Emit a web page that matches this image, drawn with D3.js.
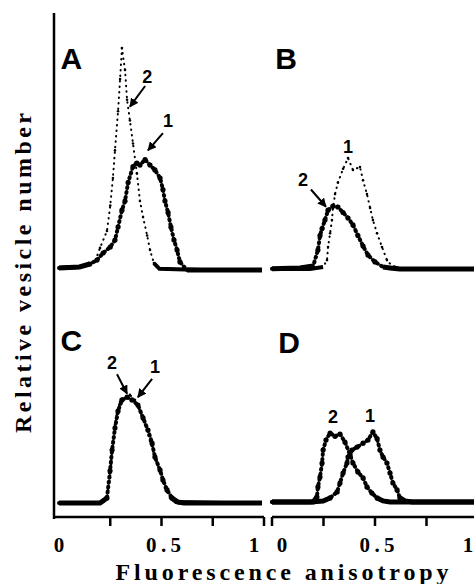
<!DOCTYPE html>
<head>
<meta charset="utf-8">
<style>
body { margin: 0; background: #fff; }
.axis-line { stroke: #000; stroke-width: 2.5; fill: none; }
.tick-lbl { font-family: "Liberation Serif", "Times New Roman", serif; font-weight: bold; font-size: 21px; }
.title { font-family: "Liberation Serif", "Times New Roman", serif; font-weight: bold; font-size: 24px; }
.panel-lbl { font: bold 30px "Liberation Sans", sans-serif; }
.num-lbl { font: bold 18px "Liberation Sans", sans-serif; }
</style>
<title>Fluorescence anisotropy histograms</title>
</head>
<body>
<svg width="474" height="584"></svg>
<script src="https://cdn.jsdelivr.net/npm/d3@7"></script>
<script>
/* global d3 */
// anisotropy (x) and relative vesicle number (y)
var xA1 = [0, 0.10, 0.15, 0.185, 0.215, 0.25, 0.273, 0.288, 0.307, 0.322, 0.337, 0.361, 0.38, 0.395, 0.42, 0.444, 0.468, 0.493, 0.507, 0.517, 0.532, 0.546, 0.561, 0.576, 0.59, 0.624, 0.8, 0.99]
var yA1 = [0.9, 1.3, 2.6, 4.3, 7.4, 10, 13, 18.7, 26, 30, 38, 45, 46.5, 45.6, 48, 45.6, 43.5, 40, 35, 30, 25, 18.7, 13, 8.7, 3.5, 0, 0, 0]
var xA2 = [0, 0.10, 0.175, 0.2, 0.234, 0.25, 0.263, 0.273, 0.288, 0.298, 0.307, 0.322, 0.332, 0.346, 0.361, 0.38, 0.395, 0.41, 0.43, 0.444, 0.463, 0.49, 0.7, 0.99]
var yA2 = [1, 1.3, 3.5, 9.6, 17, 28, 40, 52, 69, 83, 96.5, 87, 74, 65, 55, 42, 30, 23, 15, 8.7, 3, 0.5, 0, 0]

var xB1 = [0, 0.184, 0.248, 0.267, 0.272, 0.282, 0.291, 0.296, 0.306, 0.32, 0.345, 0.369, 0.393, 0.427, 0.442, 0.461, 0.476, 0.49, 0.51, 0.534, 0.558, 0.587, 0.62, 0.8, 1.0]
var yB1 = [0.4, 0.4, 1.3, 4.3, 10, 16, 21.7, 27, 33, 38, 44, 48.7, 43.5, 44.8, 39, 33, 27, 21.7, 16, 10, 4.3, 1.3, 0.4, 0.4, 0.4]
var xB2 = [0, 0.136, 0.2, 0.223, 0.233, 0.243, 0.257, 0.272, 0.296, 0.32, 0.345, 0.369, 0.393, 0.417, 0.442, 0.466, 0.5, 0.539, 0.573, 0.62, 0.8, 1.0]
var yB2 = [0.5, 0.9, 1.7, 8.7, 15, 18, 21.7, 26, 27.8, 27.4, 25, 22.6, 19.6, 15, 10.4, 6.5, 3.5, 1.3, 0.9, 0.4, 0.4, 0.4]

var xC1 = [0, 0.2, 0.234, 0.249, 0.259, 0.273, 0.288, 0.307, 0.332, 0.356, 0.385, 0.41, 0.434, 0.454, 0.468, 0.493, 0.507, 0.527, 0.551, 0.58, 0.61, 0.8, 0.99]
var yC1 = [0, 0, 2.2, 14, 23, 32.6, 40, 44.8, 46, 44.8, 42.6, 37, 31.7, 26, 20, 14.3, 10, 5.7, 2.2, 0.4, 0, 0, 0]
var xC2 = [0, 0.2, 0.224, 0.239, 0.249, 0.254, 0.263, 0.273, 0.283, 0.298, 0.322, 0.346, 0.371, 0.395, 0.42, 0.444, 0.468, 0.493, 0.517, 0.541, 0.571, 0.8, 0.99]
var yC2 = [0, 0, 1.3, 5.7, 11, 17, 27, 34, 40, 44, 45.6, 47, 44.8, 40, 34, 27, 19.6, 13.5, 6.5, 2.6, 0.4, 0, 0]

var xD1 = [0, 0.184, 0.248, 0.282, 0.316, 0.33, 0.345, 0.364, 0.369, 0.388, 0.413, 0.442, 0.466, 0.49, 0.51, 0.524, 0.539, 0.558, 0.573, 0.587, 0.607, 0.621, 0.646, 0.68, 0.85, 1.0]
var yD1 = [0.4, 0.4, 0.9, 2.2, 4.8, 8.7, 13, 17.4, 20, 23, 24.3, 26, 27.4, 30.9, 28, 23, 20, 17.4, 13, 8.7, 5.7, 2.2, 0.9, 0.4, 0.4, 0.4]
var xD2 = [0, 0.2, 0.218, 0.223, 0.233, 0.243, 0.248, 0.262, 0.282, 0.306, 0.33, 0.354, 0.379, 0.393, 0.417, 0.442, 0.461, 0.485, 0.51, 0.539, 0.573, 0.8, 1.0]
var yD2 = [0.4, 0.4, 2.6, 7, 11.3, 17.4, 23, 27.4, 30.4, 29, 30, 26.5, 21, 17.4, 13.5, 10.9, 7, 4.3, 2.2, 0.9, 0.4, 0.4, 0.4]

var tickVals = [0.25, 0.5, 0.75, 1]
var tickLabels = ["0", "0.5", "1"]
var tickLabelVals = [0, 0.5, 1]

var svg = d3.select("svg")
var xLeft = d3.scaleLinear().domain([0, 1]).range([59, 264]),
    xRight = d3.scaleLinear().domain([0, 1]).range([272, 478]),
    yTop = d3.scaleLinear().domain([0, 100]).range([270, 40]),
    yBottom = d3.scaleLinear().domain([0, 100]).range([503, 273])

function zip(xs, ys) { return xs.map((x, i) => ({x: x, y: ys[i]})) }

var panels = [
  {name: "A", x: xLeft, y: yTop, lbl: [0.06, 92],
   series: [{d: zip(xA1, yA1), heavy: true}, {d: zip(xA2, yA2), heavy: false}],
   nums: [{t: "2", at: [0.43, 84], arrow: [[0.42, 80], [0.346, 71]]},
          {t: "1", at: [0.532, 65], arrow: [[0.507, 59.5], [0.434, 52]]}]},
  {name: "B", x: xRight, y: yTop, lbl: [0.068, 92],
   series: [{d: zip(xB1, yB1), heavy: false}, {d: zip(xB2, yB2), heavy: true}],
   nums: [{t: "1", at: [0.369, 53.5]},
          {t: "2", at: [0.15, 39], arrow: [[0.189, 35], [0.262, 27.5]]}]},
  {name: "C", x: xLeft, y: yBottom, lbl: [0.06, 70.5],
   series: [{d: zip(xC2, yC2), heavy: false}, {d: zip(xC1, yC1), heavy: true}],
   nums: [{t: "2", at: [0.259, 61], arrow: [[0.283, 56], [0.332, 47.5]]},
          {t: "1", at: [0.468, 59], arrow: [[0.454, 54], [0.385, 46]]}]},
  {name: "D", x: xRight, y: yBottom, lbl: [0.083, 69.6],
   series: [{d: zip(xD2, yD2), heavy: true}, {d: zip(xD1, yD1), heavy: true}],
   nums: [{t: "2", at: [0.296, 37.5]}, {t: "1", at: [0.476, 38]}]}
]

svg.append("defs").append("marker")
    .attr("id", "head")
    .attr("viewBox", "0 0 10 10")
    .attr("refX", 9).attr("refY", 5)
    .attr("markerWidth", 4.5).attr("markerHeight", 4.5)
    .attr("orient", "auto")
  .append("path")
    .attr("d", "M0,0L10,5L0,10z")

panels.forEach(function(p) {
  var g = svg.append("g")
  var base = d3.line().defined(d => d.y <= 3).x(d => p.x(d.x)).y(d => p.y(d.y))
  var all = d3.line().x(d => p.x(d.x)).y(d => p.y(d.y))
  p.series.forEach(function(s) {
    g.append("path")
        .attr("d", base(s.d))
        .attr("fill", "none").attr("stroke", "#000")
        .attr("stroke-width", s.heavy ? 5 : 4)
    g.append("path")
        .attr("d", all(s.d))
        .attr("fill", "none").attr("stroke", "#000")
        .attr("stroke-linecap", "round")
        .attr("stroke-width", s.heavy ? 4 : 2)
        .attr("stroke-dasharray", s.heavy ? "1,4" : "0.5,5")
    g.selectAll(null)
      .data(s.d.filter(d => d.y > 2))
      .enter().append("circle")
        .attr("cx", d => p.x(d.x))
        .attr("cy", d => p.y(d.y))
        .attr("r", s.heavy ? 2.6 : 1.3)
  })
  g.append("text")
      .attr("class", "panel-lbl")
      .attr("x", p.x(p.lbl[0])).attr("y", p.y(p.lbl[1]))
      .attr("text-anchor", "middle").attr("dominant-baseline", "central")
      .text(p.name)
  p.nums.forEach(function(n) {
    g.append("text")
        .attr("class", "num-lbl")
        .attr("x", p.x(n.at[0])).attr("y", p.y(n.at[1]))
        .attr("text-anchor", "middle").attr("dominant-baseline", "central")
        .text(n.t)
    if (n.arrow) {
      g.append("line")
          .attr("x1", p.x(n.arrow[0][0])).attr("y1", p.y(n.arrow[0][1]))
          .attr("x2", p.x(n.arrow[1][0])).attr("y2", p.y(n.arrow[1][1]))
          .attr("stroke", "#000").attr("stroke-width", 2)
          .attr("marker-end", "url(#head)")
    }
  })
})

// axes
var axisY = 517
svg.append("line").attr("class", "axis-line")
    .attr("x1", 54).attr("x2", 54).attr("y1", 13).attr("y2", axisY + 2)
svg.append("line").attr("class", "axis-line")
    .attr("x1", 54).attr("x2", xLeft(1)).attr("y1", axisY).attr("y2", axisY)
svg.append("line").attr("class", "axis-line")
    .attr("x1", xRight(0)).attr("x2", xRight(1)).attr("y1", axisY).attr("y2", axisY)

svg.selectAll(".tl").data(tickVals).enter().append("line")
    .attr("class", "axis-line")
    .attr("x1", d => xLeft(d)).attr("x2", d => xLeft(d))
    .attr("y1", axisY).attr("y2", axisY + 9)
svg.selectAll(".tr").data([0].concat(tickVals)).enter().append("line")
    .attr("class", "axis-line")
    .attr("x1", d => xRight(d)).attr("x2", d => xRight(d))
    .attr("y1", axisY).attr("y2", axisY + 9)

var nudgeL = [0, 2, -10], nudgeR = [10, 2, -10]
;[[xLeft, nudgeL], [xRight, nudgeR]].forEach(function(a) {
  svg.selectAll(null).data(tickLabels).enter().append("text")
      .attr("class", "tick-lbl")
      .attr("x", (d, i) => a[0](tickLabelVals[i]) + a[1][i])
      .attr("y", 552)
      .attr("text-anchor", "middle")
      .attr("textLength", d => d.length > 1 ? 35 : null)
      .attr("lengthAdjust", "spacing")
      .text(d => d)
})

svg.append("text")
    .attr("class", "title")
    .attr("x", 282).attr("y", 580)
    .attr("text-anchor", "middle")
    .attr("textLength", 333).attr("lengthAdjust", "spacing")
    .text("Fluorescence anisotropy")

svg.append("text")
    .attr("class", "title")
    .attr("transform", "translate(31,273) rotate(-90)")
    .attr("text-anchor", "middle")
    .attr("textLength", 320).attr("lengthAdjust", "spacing")
    .text("Relative vesicle number")
</script>
</body>
